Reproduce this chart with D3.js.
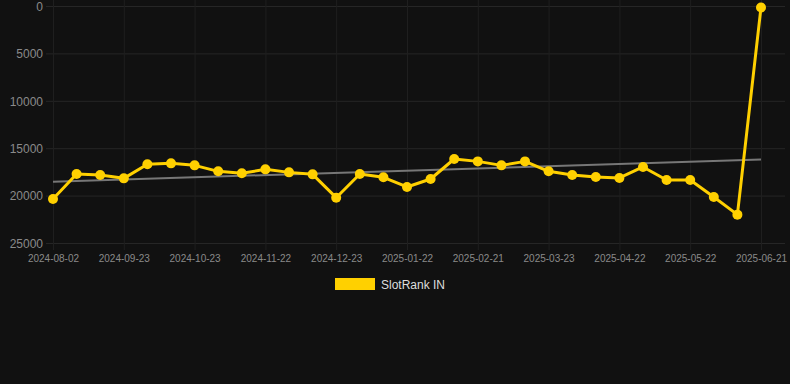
<!DOCTYPE html>
<html><head><meta charset="utf-8">
<script src="https://cdn.jsdelivr.net/npm/d3@7"></script>
<style>html,body{margin:0;padding:0;background:#111111;}svg{display:block;}</style>
</head><body>
<svg id="chart" width="790" height="384"></svg>
<script>
const dates = ["2024-08-02","2024-09-03","2024-09-13","2024-09-23","2024-10-03","2024-10-13","2024-10-23","2024-11-02","2024-11-12","2024-11-22","2024-12-02","2024-12-12","2024-12-23","2025-01-02","2025-01-12","2025-01-22","2025-02-01","2025-02-11","2025-02-21","2025-03-03","2025-03-13","2025-03-23","2025-04-02","2025-04-12","2025-04-22","2025-05-02","2025-05-12","2025-05-22","2025-06-01","2025-06-11","2025-06-21"];
const ranks = [20360,17720,17830,18180,16700,16600,16810,17440,17650,17230,17550,17760,20220,17720,18070,19090,18250,16140,16390,16810,16390,17440,17830,18040,18140,16980,18350,18350,20150,22010,150];
const yTicks = [0,5000,10000,15000,20000,25000];
const xTickLabels = ["2024-08-02","2024-09-23","2024-10-23","2024-11-22","2024-12-23","2025-01-22","2025-02-21","2025-03-23","2025-04-22","2025-05-22","2025-06-21"];
const seriesName = "SlotRank IN";

const svg = d3.select("#chart");
const x = d3.scalePoint().domain(dates).range([53, 761]);
const y = d3.scaleLinear().domain([0, 25000]).range([6, 243]);
const gold = "#FFD000";

// grid
const grid = svg.append("g");
grid.selectAll("line.h").data(yTicks).enter().append("line")
  .attr("x1", 46).attr("x2", 785)
  .attr("y1", d => y(d) + 0.5).attr("y2", d => y(d) + 0.5)
  .attr("stroke", "#262626").attr("stroke-width", 1);
grid.selectAll("line.v").data(xTickLabels).enter().append("line")
  .attr("x1", d => x(d) + 0.5).attr("x2", d => x(d) + 0.5)
  .attr("y1", 0).attr("y2", 250)
  .attr("stroke", "#1f1f1f").attr("stroke-width", 1);

// y axis labels
const yAxis = d3.axisLeft(y).tickValues(yTicks).tickSize(0).tickPadding(0).tickFormat(d => String(d));
const ya = svg.append("g").attr("transform", "translate(43,0.5)").call(yAxis);
ya.select(".domain").remove();
ya.selectAll("text").attr("fill", "#8a8a8a").style("font-family", "Liberation Sans, Arial, sans-serif").style("font-size", "12px");

// x axis labels
const xAxis = d3.axisBottom(x).tickValues(xTickLabels).tickSize(0).tickPadding(0);
const xa = svg.append("g").attr("transform", "translate(0,255)").call(xAxis);
xa.select(".domain").remove();
xa.selectAll("text").attr("fill", "#8a8a8a").style("font-family", "Liberation Sans, Arial, sans-serif").style("font-size", "10px");

// trend line (linear regression)
const n = ranks.length;
const idx = d3.range(n);
const mx = d3.mean(idx), my = d3.mean(ranks);
const slope = d3.sum(idx, i => (i - mx) * (ranks[i] - my)) / d3.sum(idx, i => (i - mx) ** 2);
const icpt = my - slope * mx;
svg.append("line")
  .attr("x1", x(dates[0])).attr("y1", y(icpt))
  .attr("x2", x(dates[n-1])).attr("y2", y(icpt + slope * (n - 1)))
  .attr("stroke", "#777").attr("stroke-width", 2);

// line
const line = d3.line().x((d, i) => x(dates[i])).y(d => y(d));
svg.append("path").datum(ranks).attr("d", line)
  .attr("fill", "none").attr("stroke", gold).attr("stroke-width", 3).attr("stroke-linejoin", "round");
svg.selectAll("circle.pt").data(ranks).enter().append("circle")
  .attr("cx", (d, i) => x(dates[i])).attr("cy", d => y(d)).attr("r", 5)
  .attr("fill", gold);

// legend
svg.append("rect").attr("x", 335).attr("y", 278).attr("width", 40).attr("height", 12).attr("fill", gold);
svg.append("text").attr("x", 381).attr("y", 289).text(seriesName)
  .attr("fill", "#dddddd").style("font-family", "Liberation Sans, Arial, sans-serif").style("font-size", "12px");
</script>
</body></html>
